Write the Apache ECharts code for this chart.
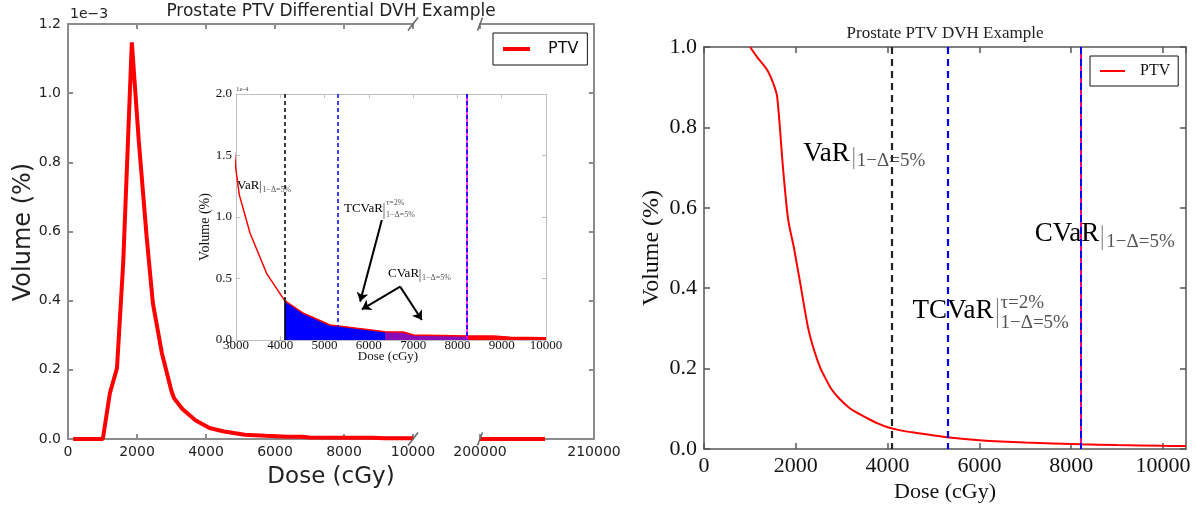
<!DOCTYPE html>
<html>
<head>
<meta charset="utf-8">
<title>Prostate PTV DVH</title>
<script src="https://cdn.jsdelivr.net/npm/echarts@6.0.0/dist/echarts.min.js"></script>
<style>
html,body{margin:0;padding:0;background:#fff;}
#chart{width:1196px;height:508px;}
</style>
</head>
<body>
<div id="chart"></div>
<script>
// ---------------- DATA ----------------
// Differential DVH, prostate PTV (volume in units of 1e-3)
const diffDose = [150, 1010, 1215, 1420, 1600, 1850, 2050, 2280, 2460, 2720, 3000, 3075, 3316, 3693, 4100, 4522, 5125, 5728, 6365, 6782, 7008, 8215, 8815, 9190, 10000];
const diffVol  = [0, 0, 0.133, 0.205, 0.509, 1.147, 0.864, 0.584, 0.393, 0.249, 0.138, 0.118, 0.087, 0.054, 0.032, 0.0217, 0.0122, 0.0095, 0.0068, 0.0065, 0.0041, 0.0033, 0.0033, 0.0022, 0.0019];
// far tail of the differential DVH (second segment of the broken axis)
const tailDose = [200000, 205700];
const tailVol  = [0, 0];
// Cumulative DVH, prostate PTV
const cumDose = [1004, 1157, 1376, 1507, 1594, 1725, 1834, 1960, 2115, 2270, 2400, 2540, 2650, 2770, 2950, 3190, 3400, 3600, 3800, 4000, 4250, 4500, 5300, 6000, 7000, 8215, 9000, 10000, 10500];
const cumVol  = [1.0, 0.975, 0.943, 0.91, 0.876, 0.694, 0.57, 0.5, 0.4, 0.3, 0.245, 0.2, 0.175, 0.15, 0.125, 0.1, 0.086, 0.074, 0.063, 0.054, 0.047, 0.042, 0.029, 0.022, 0.016, 0.0116, 0.0098, 0.008, 0.0074];
// risk measures (dose in cGy)
const VaR = 4100, TCVaR = 5300, CVaR = 8215;
const tcvarFillEnd = 6365;
// axis ranges / tick steps
const mainXRange = [0, 10000, 2000];
const tailXRange = [200000, 210000, 10000];
const mainYRange = [0, 1.2, 0.2];
const insetXRange = [3000, 10000, 1000];
const insetYRange = [0, 0.2, 0.05];
const cumXRange = [0, 10500, 2000];
const cumYRange = [0, 1, 0.2];
// inset arrows (data coords: from -> to)
const insetArrows = [
  [[6293, 0.0976], [5803, 0.0312]],
  [[6707, 0.0434], [5841, 0.0249]],
  [[6707, 0.0434], [7197, 0.0163]]
];

// ---------------- CHART ----------------
const SANS = 'DejaVu Sans';
const SERIF = 'Liberation Serif';
const zip = (a, b) => a.map((v, i) => [v, b[i]]);
const diffData = zip(diffDose, diffVol);
const cumData = zip(cumDose, cumVol);
const inRange = (lo, hi) => diffData.filter(d => d[0] >= lo && d[0] <= hi);
function interp(xs, ys, x) {
  for (let i = 0; i < xs.length - 1; i++) {
    if (x >= xs[i] && x <= xs[i + 1]) {
      const t = (x - xs[i]) / (xs[i + 1] - xs[i]);
      return ys[i] + t * (ys[i + 1] - ys[i]);
    }
  }
  return ys[ys.length - 1];
}
const vAtVaR = interp(diffDose, diffVol, VaR);

const mainLine = {color: '#8c8c8c', width: 2};
const insetLine = {color: '#c0c0c0', width: 1};
const rightLine = {color: '#555555', width: 1.5};
const plain = v => String(v);

function axis(base, range, lineStyle, tickLen, label) {
  return Object.assign({
    type: 'value', min: range[0], max: range[1], interval: range[2],
    splitLine: {show: false},
    axisLine: {show: true, onZero: false, lineStyle: lineStyle},
    axisTick: {show: true, inside: true, length: tickLen, lineStyle: lineStyle},
    axisLabel: label
  }, base);
}
const mainLbl = {fontFamily: SANS, fontSize: 14, color: '#222', margin: 6, formatter: plain};
const insetLbl = {fontFamily: SERIF, fontSize: 13, color: '#111', margin: -1, formatter: plain};
const rightLbl = {fontFamily: SERIF, fontSize: 22, color: '#111', margin: 6};
const off = {show: false};

const chart = echarts.init(document.getElementById('chart'), null, {renderer: 'canvas'});

const option = {
  animation: false,
  backgroundColor: '#fff',
  grid: [
    {left: 68, top: 24, width: 345, height: 415, outerBoundsMode: 'none'},
    {left: 480, top: 24, width: 114, height: 415, outerBoundsMode: 'none'},
    {left: 236, top: 94, width: 310, height: 246, show: true, backgroundColor: '#fff', borderWidth: 0, outerBoundsMode: 'none'},
    {left: 704, top: 47, width: 482, height: 402, outerBoundsMode: 'none'}
  ],
  xAxis: [
    axis({gridIndex: 0, position: 'bottom'}, mainXRange, mainLine, 5, mainLbl),
    axis({gridIndex: 0, position: 'top'}, mainXRange, mainLine, 5, off),
    axis({gridIndex: 1, position: 'bottom'}, tailXRange, mainLine, 5, mainLbl),
    axis({gridIndex: 1, position: 'top'}, tailXRange, mainLine, 5, off),
    axis({gridIndex: 2, position: 'bottom'}, insetXRange, insetLine, 4, insetLbl),
    axis({gridIndex: 2, position: 'top'}, insetXRange, insetLine, 4, off),
    axis({gridIndex: 3, position: 'bottom'}, cumXRange, rightLine, 6,
      Object.assign({}, rightLbl, {showMaxLabel: false, formatter: v => (v % 2000 === 0 ? String(v) : '')})),
    axis({gridIndex: 3, position: 'top'}, cumXRange, rightLine, 6, off)
  ],
  yAxis: [
    axis({gridIndex: 0, position: 'left'}, mainYRange, mainLine, 5,
      Object.assign({}, mainLbl, {margin: 7, formatter: v => v.toFixed(1)})),
    axis({gridIndex: 1, position: 'right'}, mainYRange, mainLine, 5, off),
    axis({gridIndex: 2, position: 'left'}, insetYRange, insetLine, 4,
      Object.assign({}, insetLbl, {margin: 4, formatter: v => (v * 10).toFixed(1)})),
    axis({gridIndex: 2, position: 'right'}, insetYRange, insetLine, 4, off),
    axis({gridIndex: 3, position: 'left'}, cumYRange, rightLine, 6,
      Object.assign({}, rightLbl, {margin: 7, formatter: v => v.toFixed(1)})),
    axis({gridIndex: 3, position: 'right'}, cumYRange, rightLine, 6, off)
  ],
  legend: [
    {data: ['PTV'], left: 493, top: 33, padding: [8, 9, 8, 10], borderColor: '#111', borderWidth: 1,
     backgroundColor: '#fff', icon: 'rect', itemWidth: 27, itemHeight: 4, selectedMode: false,
     textStyle: {fontFamily: SANS, fontSize: 16, color: '#111', padding: [0, 0, 0, 13]}},
    {data: ['PTV'], left: 1090, top: 56, padding: [7, 8, 7, 10], borderColor: '#111', borderWidth: 1,
     backgroundColor: '#fff', icon: 'rect', itemWidth: 25, itemHeight: 2, selectedMode: false,
     textStyle: {fontFamily: SERIF, fontSize: 16, color: '#111', padding: [0, 0, 0, 10]}}
  ],
  series: [
    {name: 'PTV', type: 'line', xAxisIndex: 0, yAxisIndex: 0, data: diffData, symbol: 'none',
     lineStyle: {color: '#ff0000', width: 4}, itemStyle: {color: '#ff0000'}, z: 3, silent: true},
    {name: 'PTV tail', type: 'line', xAxisIndex: 2, yAxisIndex: 1, data: zip(tailDose, tailVol), symbol: 'none',
     lineStyle: {color: '#ff0000', width: 4}, itemStyle: {color: '#ff0000'}, z: 3, silent: true},
    {name: 'fill VaR-TCVaR', type: 'line', xAxisIndex: 4, yAxisIndex: 2, data: inRange(VaR, tcvarFillEnd), symbol: 'none',
     lineStyle: {width: 0}, areaStyle: {color: '#0000ff', opacity: 1}, z: 2, silent: true},
    {name: 'fill overlap', type: 'line', xAxisIndex: 4, yAxisIndex: 2, data: inRange(tcvarFillEnd, CVaR), symbol: 'none',
     lineStyle: {width: 0}, areaStyle: {color: '#8a0bb8', opacity: 1}, z: 2, silent: true},
    {name: 'fill CVaR tail', type: 'line', xAxisIndex: 4, yAxisIndex: 2, data: inRange(CVaR, 10000), symbol: 'none',
     lineStyle: {width: 0}, areaStyle: {color: '#ff0000', opacity: 1}, z: 2, silent: true},
    {name: 'inset', type: 'line', xAxisIndex: 4, yAxisIndex: 2, data: diffData, symbol: 'none',
     lineStyle: {color: '#ff0000', width: 1.5}, itemStyle: {color: '#ff0000'}, z: 4, silent: true,
     markLine: {
       silent: true, symbol: 'none', label: {show: false}, animation: false,
       data: [
         [{coord: [VaR, insetYRange[1]], lineStyle: {color: '#000', width: 1.5, type: [4, 3]}}, {coord: [VaR, vAtVaR]}],
         [{coord: [VaR, 0], lineStyle: {color: '#000', width: 1.5, type: 'solid'}}, {coord: [VaR, vAtVaR]}],
         [{coord: [TCVaR, insetYRange[1]], lineStyle: {color: '#0000ff', width: 1.5, type: [4, 3]}}, {coord: [TCVaR, 0]}],
         [{coord: [CVaR, insetYRange[1]], lineStyle: {color: '#ff00ff', width: 1.6, type: 'solid'}}, {coord: [CVaR, 0]}],
         [{coord: [CVaR, insetYRange[1]], lineStyle: {color: '#0000ff', width: 1.6, type: [4, 3]}}, {coord: [CVaR, 0]}]
       ].concat(insetArrows.map(a => [
         {coord: a[0], symbol: 'none', lineStyle: {color: '#000', width: 2, type: 'solid'}},
         {coord: a[1], symbol: 'arrow', symbolSize: 9}
       ]))
     }},
    {name: 'PTV', type: 'line', xAxisIndex: 6, yAxisIndex: 4, data: cumData, symbol: 'none',
     smooth: 0.25,
     lineStyle: {color: '#ff0000', width: 2}, itemStyle: {color: '#ff0000'}, z: 4, silent: true,
     markLine: {
       silent: true, symbol: 'none', label: {show: false}, animation: false,
       data: [
         [{coord: [VaR, cumYRange[1]], lineStyle: {color: '#222', width: 2.2, type: [7, 5]}}, {coord: [VaR, 0]}],
         [{coord: [TCVaR, cumYRange[1]], lineStyle: {color: '#0000ff', width: 2.2, type: [7, 5]}}, {coord: [TCVaR, 0]}],
         [{coord: [CVaR, cumYRange[1]], lineStyle: {color: '#ff0080', width: 2, type: 'solid'}}, {coord: [CVaR, 0]}],
         [{coord: [CVaR, cumYRange[1]], lineStyle: {color: '#0000ff', width: 2, type: [7, 5]}}, {coord: [CVaR, 0]}]
       ]
     }}
  ]
};
chart.setOption(option);

// ---------------- TEXT / DECORATION ----------------
const P = (xi, yi, pt) => chart.convertToPixel({xAxisIndex: xi, yAxisIndex: yi}, pt);
const mctx = document.createElement('canvas').getContext('2d');
function tw(t, size, fam) { mctx.font = size + 'px "' + fam + '"'; return mctx.measureText(t).width; }
function txt(t, x, y, size, fam, opts) {
  opts = opts || {};
  return {type: 'text', x: x, y: y, rotation: opts.rot || 0, z: opts.z || 1, silent: true,
    style: {text: t, fontSize: size, fontFamily: fam, fill: opts.color || '#111',
      align: opts.align || 'center', verticalAlign: 'middle', fontWeight: opts.weight || 'normal'}};
}
// baseline-left text
function btxt(t, x, yBase, size, color) {
  return txt(t, x, yBase - 0.34 * size, size, SERIF, {align: 'left', color: color || '#111'});
}
function annot(xi, yi, anchor, spec) {
  const p = P(xi, yi, anchor);
  const w = tw(spec.main, spec.size, SERIF);
  const out = [btxt(spec.main, p[0], p[1], spec.size, '#000')];
  const bx = p[0] + w + spec.barGap;
  out.push({type: 'line', z: 1, silent: true, shape: {x1: bx, y1: p[1] + spec.barTop, x2: bx, y2: p[1] + spec.barBot},
    style: {stroke: '#777', lineWidth: 1}});
  const sx = p[0] + w + spec.subGap;
  if (spec.sub) out.push(btxt(spec.sub, sx, p[1] + spec.subDy, spec.subSize, '#555'));
  if (spec.sup) out.push(btxt(spec.sup, sx, p[1] + spec.supDy, spec.subSize, '#555'));
  return out;
}

let g = [];
// left figure labels
g.push(txt('Prostate PTV Differential DVH Example', 331, 12, 17, SANS, {color: '#222'}));
g.push(txt('1e\u22123', 70, 14, 14, SANS, {align: 'left', color: '#222'}));
g.push(txt('Volume (%)', 24, 232, 24, SANS, {rot: Math.PI / 2, color: '#222'}));
g.push(txt('Dose (cGy)', 331, 477, 23, SANS, {color: '#222'}));
// inset labels
g.push(txt('Volume (%)', 205, 227, 14, SERIF, {rot: Math.PI / 2}));
g.push(txt('Dose (cGy)', 388, 357, 13, SERIF));
g.push(txt('1e-4', 236, 89, 7, SERIF, {align: 'left', color: '#444'}));
// right figure labels
g.push(txt('Prostate PTV DVH Example', 945, 34, 17, SERIF, {color: '#222'}));
g.push(txt('Volume (%)', 652, 248, 24, SERIF, {rot: Math.PI / 2}));
g.push(txt('Dose (cGy)', 945, 492, 22, SERIF));

// broken-axis slashes
const sA = P(0, 0, [mainXRange[1], mainYRange[1]]);
const sB = P(0, 0, [mainXRange[1], mainYRange[0]]);
const sC = P(2, 1, [tailXRange[0], mainYRange[1]]);
const sD = P(2, 1, [tailXRange[0], mainYRange[0]]);
[[sA, 5], [sB, 5], [sC, 2.5], [sD, 2.5]].forEach(([p, dx]) => {
  g.push({type: 'line', z: 5, silent: true,
    shape: {x1: p[0] - dx, y1: p[1] + 6.5, x2: p[0] + dx, y2: p[1] - 6.5},
    style: {stroke: '#666', lineWidth: 1.5}});
});

// right chart annotations
g = g.concat(annot(6, 4, [2162, 0.711], {main: 'VaR', size: 27, barGap: 4, barTop: -16, barBot: 6, subGap: 7,
  sub: '1\u2212\u0394=5%', subDy: 4, subSize: 19}));
g = g.concat(annot(6, 4, [7205, 0.512], {main: 'CVaR', size: 27, barGap: 3, barTop: -18, barBot: 7, subGap: 7,
  sub: '1\u2212\u0394=5%', subDy: 5, subSize: 19}));
g = g.concat(annot(6, 4, [4541, 0.321], {main: 'TCVaR', size: 27, barGap: 4, barTop: -22, barBot: 8, subGap: 7,
  sub: '1\u2212\u0394=5%', subDy: 10, sup: '\u03c4=2%', supDy: -10, subSize: 19}));
// inset annotations
g = g.concat(annot(4, 2, [3023, 0.122], {main: 'VaR', size: 13, barGap: 1, barTop: -9, barBot: 3, subGap: 3,
  sub: '1\u2212\u0394=5%', subDy: 3, subSize: 8}));
g = g.concat(annot(4, 2, [5439, 0.1033], {main: 'TCVaR', size: 13, barGap: 1, barTop: -10, barBot: 6, subGap: 3,
  sub: '1\u2212\u0394=5%', subDy: 5, sup: '\u03c4=2%', supDy: -7, subSize: 8}));
g = g.concat(annot(4, 2, [6432, 0.0504], {main: 'CVaR', size: 13, barGap: 1, barTop: -9, barBot: 4, subGap: 3,
  sub: '1\u2212\u0394=5%', subDy: 3, subSize: 8}));

chart.setOption({graphic: g});
</script>
</body>
</html>
